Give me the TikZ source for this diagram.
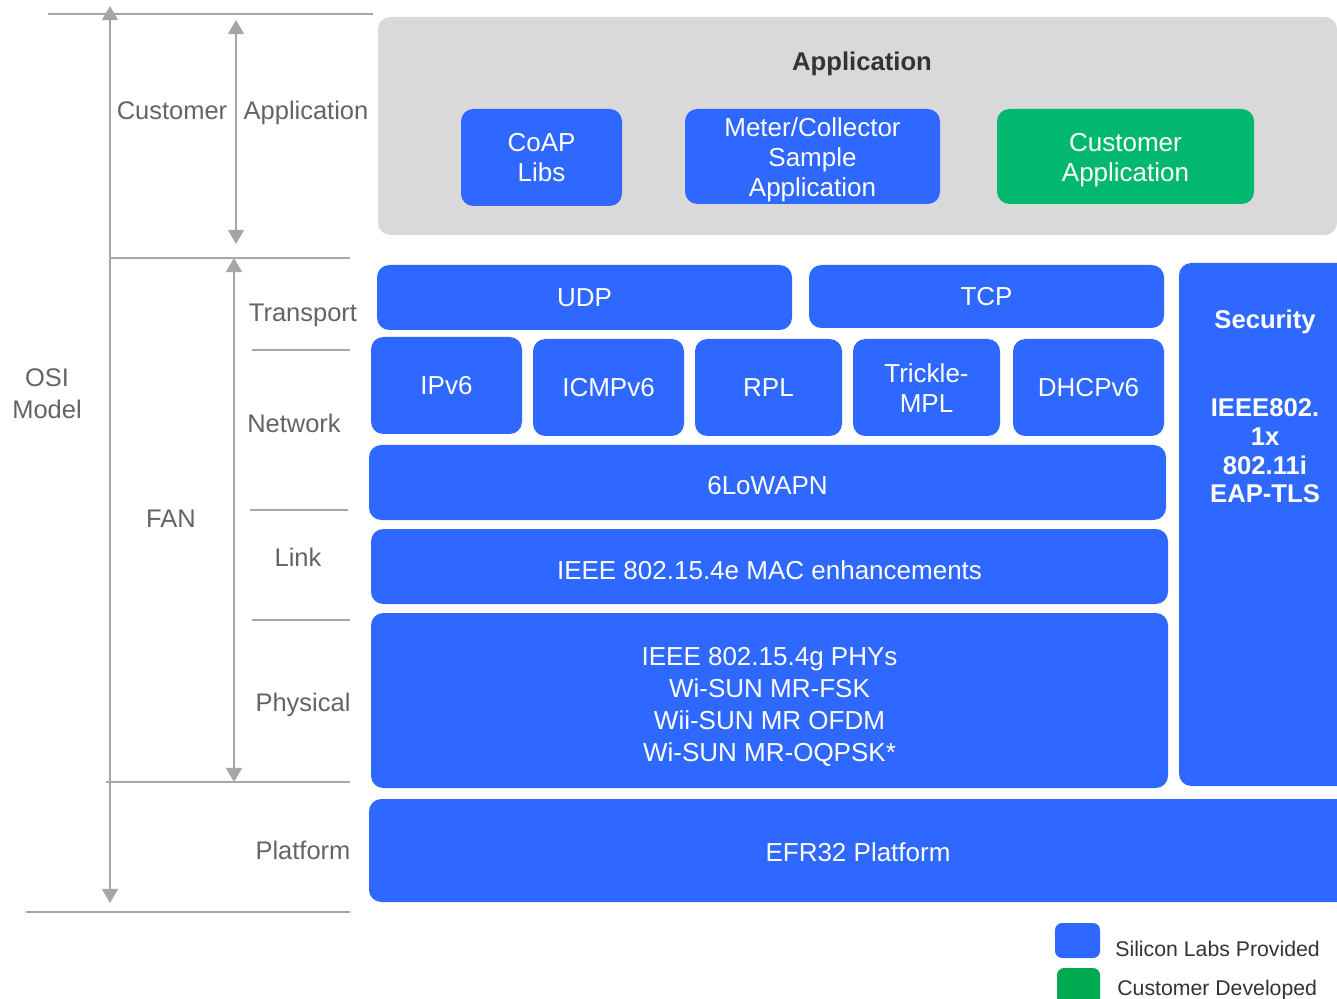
\documentclass[tikz,border=0pt]{standalone}
\usepackage{fontspec}
\setmainfont{Liberation Sans}
\usetikzlibrary{arrows.meta}
\definecolor{slblue}{RGB}{46,104,255}
\definecolor{cgreen}{RGB}{2,183,112}
\definecolor{lgreen}{RGB}{0,170,80}
\definecolor{appgray}{RGB}{217,217,217}
\definecolor{linegray}{RGB}{166,166,166}
\definecolor{labgray}{RGB}{100,100,100}
\definecolor{darktxt}{RGB}{51,51,51}
% [dy]{style}{name}{x1}{y1}{x2}{y2}{text}
\newcommand\pxbox[8][0]{%
  \node[#2, minimum width={(#6-#4)*0.02cm}, minimum height={(#7-#5)*0.02cm}] (#3) at ({(#4+#6)/2},{(#5+#7)/2}) {};
  \node[#2, fill=none, draw=none, minimum width=0pt, minimum height=0pt, yshift={-(#1)*0.02cm}] (#3t) at (#3.center) {#8};}
\begin{document}
\begin{tikzpicture}[x=0.02cm,y=-0.02cm,
  blk/.style={fill=slblue, rounded corners=7pt, text=white, align=center, inner sep=0pt,
    font=\fontsize{14.8}{17}\selectfont},
  gblk/.style={blk, fill=cgreen},
  lab/.style={text=labgray, font=\fontsize{14.5}{17}\selectfont, inner sep=0pt, align=center},
  sep/.style={draw=linegray, line width=1.2pt},
  arr/.style={draw=linegray, line width=1.2pt, {Triangle[width=9pt,length=8pt]}-{Triangle[width=9pt,length=8pt]}},
  wtxt/.style={text=white, inner sep=0pt, align=center}]
\useasboundingbox (0,0) rectangle (1337,999);
\clip (0,0) rectangle (1337,999);
\fill[white] (0,0) rectangle (1337,999);

% application area
\pxbox{blk, fill=appgray}{appbg}{378}{17}{1337}{235}{}
\node[text=darktxt, inner sep=0pt, font=\fontsize{14.6}{17}\selectfont\bfseries] (apptitle) at (862,64) {Application};
\pxbox{blk}{coap}{461}{109}{622}{206}{CoAP\\Libs}
\pxbox[3]{blk}{meter}{685}{109}{940}{204}{Meter/Collector\\Sample\\Application}
\pxbox[4]{gblk}{custapp}{997}{109}{1254}{204}{Customer\\Application}

% stack
\pxbox{blk}{udp}{377}{265}{792}{330}{UDP}
\pxbox{blk}{tcp}{809}{265}{1164}{328}{TCP}
\pxbox{blk}{ipv6}{371}{337}{522}{434}{IPv6}
\pxbox{blk}{icmp}{533}{339}{684}{436}{ICMPv6}
\pxbox{blk}{rpl}{695}{339}{842}{436}{RPL}
\pxbox[1]{blk}{trickle}{853}{339}{1000}{436}{Trickle-\\MPL}
\pxbox{blk}{dhcp}{1013}{339}{1164}{436}{DHCPv6}
\pxbox[3]{blk}{lowpan}{369}{445}{1166}{520}{6LoWAPN}
\pxbox[4]{blk}{mac}{371}{529}{1168}{604}{IEEE 802.15.4e MAC enhancements}
\pxbox[6]{blk, font=\fontsize{14.8}{18.2}\selectfont}{phy}{371}{613}{1168}{788}{IEEE 802.15.4g PHYs\\Wi-SUN MR-FSK\\Wii-SUN MR OFDM\\Wi-SUN MR-OQPSK*}
\pxbox{blk}{efr}{369}{799}{1370}{902}{}
\node[wtxt, font=\fontsize{14.8}{17}\selectfont] (efrtxt) at (858,852) {EFR32 Platform};
\pxbox{blk}{sec}{1179}{263}{1370}{786}{}
\node[wtxt, font=\fontsize{14.6}{17}\selectfont\bfseries] (sectitle) at (1265,322) {Security};
\node[wtxt, font=\fontsize{14.6}{16.3}\selectfont\bfseries] (sectxt) at (1265,451) {IEEE802.\\1x\\802.11i\\EAP-TLS};

% legend
\pxbox{blk, rounded corners=4pt}{legblue}{1055}{923}{1100}{958}{}
\pxbox{blk, rounded corners=4pt, fill=lgreen}{leggreen}{1057}{968}{1100}{1015}{}
\node[text=darktxt, anchor=west, inner sep=0pt, font=\fontsize{12.1}{14}\selectfont] (legbt) at (1115,949) {Silicon Labs Provided};
\node[text=darktxt, anchor=west, inner sep=0pt, font=\fontsize{12.1}{14}\selectfont] (leggt) at (1117,990) {Customer Developed};

% left scale
\coordinate (l0a) at (48,14);   \coordinate (l0b) at (373,14);
\coordinate (l1a) at (110,258); \coordinate (l1b) at (350,258);
\coordinate (l2a) at (252,350); \coordinate (l2b) at (350,350);
\coordinate (l3a) at (250,510); \coordinate (l3b) at (348,510);
\coordinate (l4a) at (252,620); \coordinate (l4b) at (350,620);
\coordinate (l5a) at (106,782); \coordinate (l5b) at (350,782);
\coordinate (l6a) at (26,912);  \coordinate (l6b) at (350,912);
\foreach \n in {0,...,6} {\draw[sep] (l\n a) -- (l\n b);}

\coordinate (osiT) at (110,6);  \coordinate (osiB) at (110,903);
\coordinate (caT) at (236,20);  \coordinate (caB) at (236,244);
\coordinate (fanT) at (234,258); \coordinate (fanB) at (234,782);
\draw[arr] (osiT) -- (osiB);
\draw[arr] (caT) -- (caB);
\draw[arr] (fanT) -- (fanB);

\node[lab, anchor=base] (cust) at (172,120) {Customer};
\node[lab, anchor=base] (appl) at (306,120) {Application};
\node[lab, font=\fontsize{14.5}{18}\selectfont] (osi) at (47,394) {OSI\\Model};
\node[lab] (fan) at (171,519) {FAN};
\node[lab] (transport) at (303,315) {Transport};
\node[lab] (network) at (294,423) {Network};
\node[lab] (link) at (298,557) {Link};
\node[lab] (physical) at (303,705) {Physical};
\node[lab] (platform) at (303,850) {Platform};
\end{tikzpicture}
\end{document}
